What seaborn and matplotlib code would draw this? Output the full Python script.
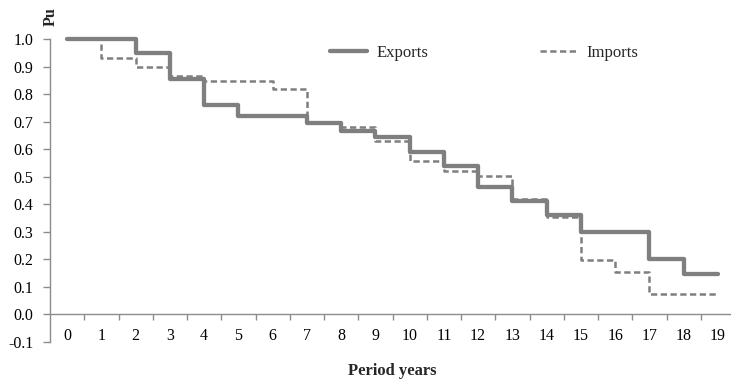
import seaborn as sns
import matplotlib.pyplot as plt
import pandas as pd
from matplotlib.ticker import FormatStrFormatter, FixedLocator

# Pu 随时期的阶梯变化（出口 / 进口）
years = list(range(20))
exports = [1.0, 1.0, 0.95, 0.855, 0.76, 0.72, 0.72, 0.695, 0.665, 0.645,
           0.59, 0.54, 0.463, 0.413, 0.36, 0.30, 0.30, 0.20, 0.147, 0.147]
imports = [1.0, 0.93, 0.897, 0.866, 0.849, 0.849, 0.817, 0.699, 0.679, 0.628,
           0.558, 0.519, 0.501, 0.418, 0.353, 0.199, 0.155, 0.076, 0.076, 0.076]
yticks = [round(-0.1 + 0.1 * i, 1) for i in range(12)]

sns.set_style('white')
plt.rcParams['font.family'] = ['Liberation Serif', 'DejaVu Serif']
plt.rcParams['axes.unicode_minus'] = False

df = pd.DataFrame({'year': years, 'Exports': exports, 'Imports': imports})

grey = '#7f7f7f'
axis_grey = '#8c8c8c'
fs = 11.5

fig = plt.figure(figsize=(7.31, 3.82), dpi=100)
ax = fig.add_axes([50 / 731, 40 / 382, 685 / 731, 303 / 382])

sns.lineplot(data=df, x='year', y='Exports', ax=ax, color=grey, linewidth=3.1,
             drawstyle='steps-post', label='Exports', clip_on=False)
sns.lineplot(data=df, x='year', y='Imports', ax=ax, color=grey, linewidth=1.8,
             linestyle=(0, (2.5, 1.4)), drawstyle='steps-post', label='Imports',
             clip_on=False)

ax.set_xlim(-0.5, 19.5)
ax.set_ylim(-0.1, 1.0)
ax.set_yticks(yticks)
ax.yaxis.set_major_formatter(FormatStrFormatter('%.1f'))

# 横轴放在 y=0 处，刻度在类别之间
for s in ['top', 'right']:
    ax.spines[s].set_visible(False)
ax.spines['bottom'].set_position(('data', 0))
ax.spines['bottom'].set_color(axis_grey)
ax.spines['left'].set_color(axis_grey)
ax.spines['bottom'].set_linewidth(1.0)
ax.spines['left'].set_linewidth(1.0)

ax.xaxis.set_major_locator(FixedLocator(years))
ax.xaxis.set_minor_locator(FixedLocator([y + 0.5 for y in years]))
ax.tick_params(axis='x', which='major', length=0, pad=9.5, labelsize=fs, colors='black')
ax.tick_params(axis='x', which='minor', bottom=True, length=4.5, width=1.0,
               color=axis_grey, direction='out')
ax.tick_params(axis='y', which='major', left=True, length=5, width=1.0,
               color=axis_grey, labelcolor='black', pad=7, labelsize=fs)

ax.set_xlabel('Period years', fontsize=fs + 0.5, fontweight='bold')
ax.xaxis.set_label_coords(0.5, -0.07)
ax.set_ylabel('Pu', fontsize=fs, fontweight='bold')
ax.yaxis.set_label_coords(0.012, 1.075)

ax.legend(loc='center left', bbox_to_anchor=(0.399, 0.954), ncol=2, frameon=False,
          fontsize=fs + 0.5, handlelength=2.2, handletextpad=0.6, columnspacing=6.7,
          borderaxespad=0)

fig.savefig('out.png', dpi=100)
